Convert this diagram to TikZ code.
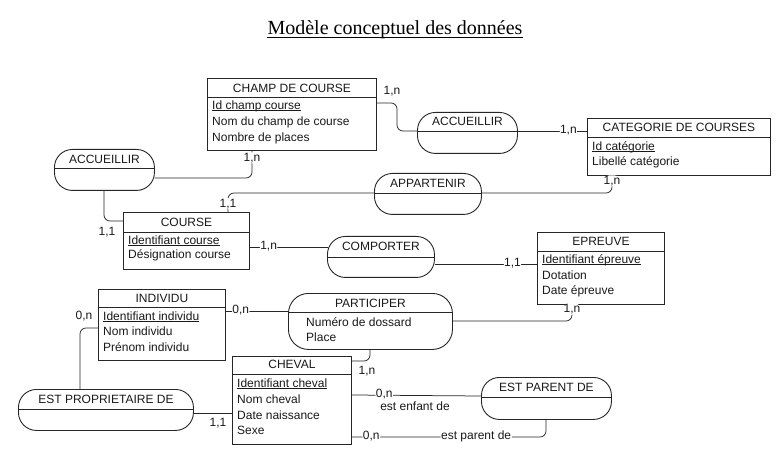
\documentclass[tikz,border=0pt]{standalone}
\usepackage{fontspec}
\setmainfont{Liberation Sans}
\newfontfamily\titlefont{Liberation Serif}
\newcommand\ulx[1]{\underline{\smash{#1}}}
\usetikzlibrary{calc}
\tikzset{
  base/.style={font=\fontsize{12}{14}\selectfont, inner sep=0pt, text=black!90},
  box/.style={draw=black!85, line width=0.9pt, inner sep=0pt, anchor=north west},
  rel/.style={draw=black!85, line width=0.9pt, rounded corners=18pt, inner sep=0pt, anchor=north west},
  sepline/.style={draw=black!85, line width=0.9pt},
  ttl/.style={base, anchor=mid, yshift=-1.5pt},
  attr/.style={base, anchor=mid west, yshift=-1.5pt},
  card/.style={base, fill=white, inner sep=0.6pt, anchor=mid},
  cardfree/.style={base, anchor=mid, yshift=-1pt},
  link/.style={draw=black!85, line width=0.75pt, rounded corners=6pt},
}
\begin{document}
\begin{tikzpicture}[x=1pt,y=-1pt]
\useasboundingbox[fill=white] (0,0) rectangle (784,454);

% title
\node[font=\titlefont\fontsize{20}{22}\selectfont, inner sep=0pt, anchor=base] (title) at (395,35) {Modèle conceptuel des données};
\draw[line width=0.8pt] ($(title.base west)+(0,2.5)$) -- ($(title.base east)+(0,2.5)$);

% ===== entities =====
% CHAMP DE COURSE
\node[box, minimum width=169pt, minimum height=72pt] (cdc) at (207,78) {};
\draw[sepline] ($(cdc.north west)+(0,19)$) -- ($(cdc.north east)+(0,19)$);
\node[ttl] (cdct) at ($(cdc.north)+(0,10)$) {CHAMP DE COURSE};
\node[attr] (cdca) at (212,105) {\ulx{Id champ course}};
\node[attr] (cdcb) at (212,121) {Nom du champ de course};
\node[attr] (cdcc) at (212,137) {Nombre de places};

% CATEGORIE DE COURSES
\node[box, minimum width=183pt, minimum height=57pt] (cat) at (587,118) {};
\draw[sepline] ($(cat.north west)+(0,19)$) -- ($(cat.north east)+(0,19)$);
\node[ttl] (catt) at ($(cat.north)+(0,9.5)$) {CATEGORIE DE COURSES};
\node[attr] (cata) at (592,146) {\ulx{Id catégorie}};
\node[attr] (catb) at (592,161) {Libellé catégorie};

% COURSE
\node[box, minimum width=126pt, minimum height=57pt] (course) at (123,212) {};
\draw[sepline] ($(course.north west)+(0,20)$) -- ($(course.north east)+(0,20)$);
\node[ttl] (courset) at ($(course.north)+(0,10)$) {COURSE};
\node[attr] (coursea) at (128,240) {\ulx{Identifiant course}};
\node[attr] (courseb) at (128,254) {Désignation course};

% EPREUVE
\node[box, minimum width=127pt, minimum height=72pt] (epr) at (537,232) {};
\draw[sepline] ($(epr.north west)+(0,19)$) -- ($(epr.north east)+(0,19)$);
\node[ttl] (eprt) at ($(epr.north)+(0,9.5)$) {EPREUVE};
\node[attr] (epra) at (542,259) {\ulx{Identifiant épreuve}};
\node[attr] (eprb) at (542,275) {Dotation};
\node[attr] (eprc) at (542,290) {Date épreuve};

% INDIVIDU
\node[box, minimum width=127pt, minimum height=71pt] (ind) at (98,289) {};
\draw[sepline] ($(ind.north west)+(0,18)$) -- ($(ind.north east)+(0,18)$);
\node[ttl] (indt) at ($(ind.north)+(0,9)$) {INDIVIDU};
\node[attr] (inda) at (103,316) {\ulx{Identifiant individu}};
\node[attr] (indb) at (103,331) {Nom individu};
\node[attr] (indc) at (103,347) {Prénom individu};

% CHEVAL
\node[box, minimum width=119pt, minimum height=88pt] (chev) at (232,356) {};
\draw[sepline] ($(chev.north west)+(0,18)$) -- ($(chev.north east)+(0,18)$);
\node[ttl] (chevt) at ($(chev.north)+(0,8.5)$) {CHEVAL};
\node[attr] (cheva) at (237,383) {\ulx{Identifiant cheval}};
\node[attr] (chevb) at (237,399) {Nom cheval};
\node[attr] (chevc) at (237,415) {Date naissance};
\node[attr] (chevd) at (237,430) {Sexe};

% ===== relationships =====
% ACCUEILLIR (right)
\node[rel, minimum width=100pt, minimum height=41pt] (acc1) at (417,112) {};
\draw[sepline] ($(acc1.north west)+(0,19)$) -- ($(acc1.north east)+(0,19)$);
\node[ttl] (acc1t) at ($(acc1.north)+(0,9.5)$) {ACCUEILLIR};

% ACCUEILLIR (left)
\node[rel, minimum width=100pt, minimum height=41pt] (acc2) at (54,149) {};
\draw[sepline] ($(acc2.north west)+(0,19)$) -- ($(acc2.north east)+(0,19)$);
\node[ttl] (acc2t) at ($(acc2.north)+(0,10)$) {ACCUEILLIR};

% APPARTENIR
\node[rel, minimum width=107pt, minimum height=41pt] (app) at (374,173) {};
\draw[sepline] ($(app.north west)+(0,20)$) -- ($(app.north east)+(0,20)$);
\node[ttl] (appt) at ($(app.north)+(0,10)$) {APPARTENIR};

% COMPORTER
\node[rel, minimum width=107pt, minimum height=41pt] (comp) at (327,236) {};
\draw[sepline] ($(comp.north west)+(0,21)$) -- ($(comp.north east)+(0,21)$);
\node[ttl] (compt) at ($(comp.north)+(0,10)$) {COMPORTER};

% PARTICIPER
\node[rel, minimum width=164pt, minimum height=56pt, rounded corners=20pt] (part) at (288,293) {};
\draw[sepline] ($(part.north west)+(0,19)$) -- ($(part.north east)+(0,19)$);
\node[ttl] (partt) at ($(part.north)+(0,10)$) {PARTICIPER};
\node[attr] (parta) at (306,322) {Numéro de dossard};
\node[attr] (partb) at (306,337) {Place};

% EST PROPRIETAIRE DE
\node[rel, minimum width=175pt, minimum height=41pt] (epro) at (18,389) {};
\draw[sepline] ($(epro.north west)+(0,20)$) -- ($(epro.north east)+(0,20)$);
\node[ttl] (eprot) at ($(epro.north)+(0,10)$) {EST PROPRIETAIRE DE};

% EST PARENT DE
\node[rel, minimum width=130pt, minimum height=42pt] (epd) at (481,377) {};
\draw[sepline] ($(epd.north west)+(0,20)$) -- ($(epd.north east)+(0,20)$);
\node[ttl] (epdt) at ($(epd.north)+(0,10)$) {EST PARENT DE};

% ===== connectors =====
% CHAMP DE COURSE -- ACCUEILLIR (right)
\draw[link] ($(cdc.north east)+(0,25)$) -| ($(acc1.north west)+(-20,19)$) -- ($(acc1.north west)+(0,19)$);
\node[cardfree] (c1) at (392,91) {1,n};
% ACCUEILLIR (right) -- CATEGORIE
\draw[link] ($(acc1.north east)+(0,19)$) -- node[card, pos=0.73] (c2) {1,n} ($(cat.north west)+(0,13)$);
% CHAMP DE COURSE -- ACCUEILLIR (left)
\draw[link] ($(cdc.south west)+(45,0)$) |- node[card, pos=0.14] (c3) {1,n} ($(acc2.north east)+(0,29)$);
% ACCUEILLIR (left) -- COURSE
\draw[link] ($(acc2.south west)+(50,0)$) |- ($(course.north west)+(0,9)$);
\node[cardfree] (c4) at ($(course.north west)+(-16,20)$) {1,1};
% COURSE -- APPARTENIR
\draw[link] ($(course.north west)+(105,0)$) |- node[card, pos=0.2] (c5) {1,1} ($(app.north west)+(0,20)$);
% CATEGORIE -- APPARTENIR
\draw[link] ($(cat.south west)+(25,0)$) |- node[card, pos=0.17] (c6) {1,n} ($(app.north east)+(0,20)$);
% COURSE -- COMPORTER
\draw[link] ($(course.north east)+(0,35)$) -- node[card, pos=0.24] (c7) {1,n} ($(comp.north west)+(1,11)$);
% COMPORTER -- EPREUVE
\draw[link] ($(comp.north east)+(0,28)$) -- node[card, pos=0.76] (c8) {1,1} ($(epr.north west)+(0,32)$);
% INDIVIDU -- PARTICIPER
\draw[link] ($(ind.north east)+(0,22)$) -- node[card, pos=0.24] (c9) {0,n} ($(part.north west)+(0,18)$);
% PARTICIPER -- EPREUVE
\draw[link] ($(part.north east)+(0,28)$) -| node[card, pos=0.85] (c10) {1,n} ($(epr.south west)+(35,0)$);
% PARTICIPER -- CHEVAL
\draw[link] ($(part.south west)+(82,0)$) |- ($(chev.north east)+(0,5)$);
\node[cardfree] (c11) at (367,371) {1,n};
% INDIVIDU -- EST PROPRIETAIRE DE
\draw[link] ($(ind.north west)+(0,39)$) -| ($(epro.north west)+(62,0)$);
\node[cardfree] (c12) at (84,316) {0,n};
% EST PROPRIETAIRE DE -- CHEVAL
\draw[link] ($(epro.north east)+(0,24)$) -- ($(chev.north west)+(0,57)$);
\node[cardfree] (c13) at (218,423) {1,1};
% CHEVAL -- EST PARENT DE (est enfant de)
\draw[link] ($(chev.north east)+(0,39)$) -- node[card, pos=0.25] (c14) {0,n} ($(epd.north west)+(0,19)$);
\node[cardfree] (r14) at (415,407) {est enfant de};
% CHEVAL -- EST PARENT DE (est parent de)
\draw[link] ($(chev.north east)+(0,81)$) -| node[card, pos=0.05] (c15) {0,n} node[card, pos=0.32] (r15) {est parent de} ($(epd.south west)+(65,0)$);
\end{tikzpicture}
\end{document}
